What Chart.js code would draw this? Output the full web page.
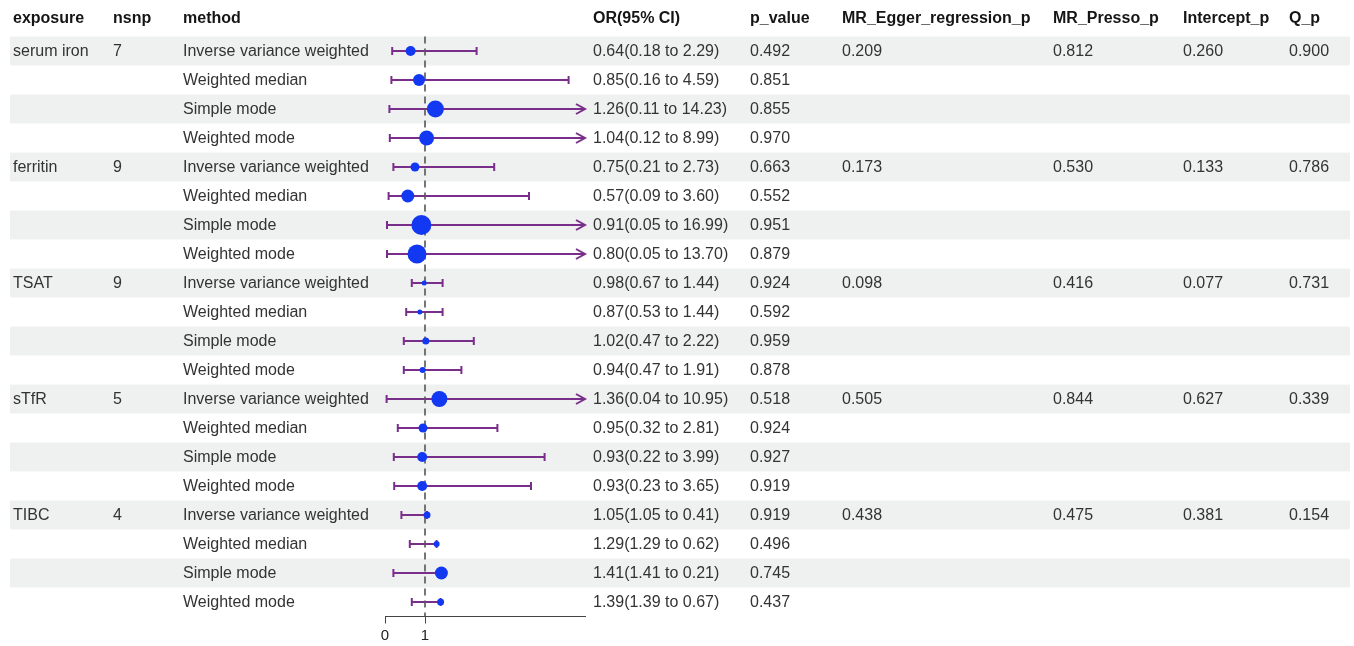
<!DOCTYPE html>
<html>
<head>
<meta charset="utf-8">
<script src="https://cdn.jsdelivr.net/npm/chart.js@4.4.1/dist/chart.umd.min.js"></script>
<style>
  body { margin: 0; background: #fff; }
  #wrap { width: 1354px; height: 646px; }
</style>
</head>
<body>
<div id="wrap"><canvas id="forest" width="1354" height="646"></canvas></div>
<script>
// data
const exposures = ['serum iron', 'ferritin', 'TSAT', 'sTfR', 'TIBC'];
const nsnp = [7, 9, 9, 5, 4];
const methods = ['Inverse variance weighted', 'Weighted median', 'Simple mode', 'Weighted mode'];

const orValue = [0.64, 0.85, 1.26, 1.04, 0.75, 0.57, 0.91, 0.80, 0.98, 0.87, 1.02, 0.94, 1.36, 0.95, 0.93, 0.93, 1.05, 1.29, 1.41, 1.39];
const ciLow = [0.18, 0.16, 0.11, 0.12, 0.21, 0.09, 0.05, 0.05, 0.67, 0.53, 0.47, 0.47, 0.04, 0.32, 0.22, 0.23, 1.05, 1.29, 1.41, 1.39];
const ciHigh = [2.29, 4.59, 14.23, 8.99, 2.73, 3.60, 16.99, 13.70, 1.44, 1.44, 2.22, 1.91, 10.95, 2.81, 3.99, 3.65, 0.41, 0.62, 0.21, 0.67];
const pValue = ['0.492', '0.851', '0.855', '0.970', '0.663', '0.552', '0.951', '0.879', '0.924', '0.592', '0.959', '0.878', '0.518', '0.924', '0.927', '0.919', '0.919', '0.496', '0.745', '0.437'];
// point weight (shown as dot size)
const weight = [5, 6, 8.5, 7.5, 4.5, 6.5, 10, 9.5, 2.5, 2.5, 3.5, 3, 8, 4.5, 5, 5, 3.5, 3, 6.5, 3.5];

const eggerP = ['0.209', '0.173', '0.098', '0.505', '0.438'];
const pressoP = ['0.812', '0.530', '0.416', '0.844', '0.475'];
const interceptP = ['0.260', '0.133', '0.077', '0.627', '0.381'];
const qP = ['0.900', '0.786', '0.731', '0.339', '0.154'];

const headers = ['exposure', 'nsnp', 'method', 'OR(95% CI)', 'p_value', 'MR_Egger_regression_p', 'MR_Presso_p', 'Intercept_p', 'Q_p'];
const xTicks = [0, 1];
const xMax = 5;

const colX = [13, 113, 183, 593, 750, 842, 1053, 1183, 1289];
const FONT = '"Liberation Sans", Arial, Helvetica, sans-serif';
const PURPLE = '#7a2e8c';
const BLUE = '#1238f2';

// rows: 4 methods per exposure
const rows = [];
exposures.forEach((e, k) => {
    methods.forEach((m, j) => {
        const i = k * 4 + j;
        rows.push({
            exposure: j === 0 ? e : '',
            nsnp: j === 0 ? String(nsnp[k]) : '',
            method: m,
            or: orValue[i].toFixed(2) + '(' + ciLow[i].toFixed(2) + ' to ' + ciHigh[i].toFixed(2) + ')',
            p: pValue[i],
            egger: j === 0 ? eggerP[k] : '',
            presso: j === 0 ? pressoP[k] : '',
            intercept: j === 0 ? interceptP[k] : '',
            q: j === 0 ? qP[k] : ''
        });
    });
});

// zebra bands behind everything
const bandPlugin = {
    id: 'bands',
    beforeDraw(chart) {
        const ctx = chart.ctx, y = chart.scales.y;
        ctx.save();
        ctx.fillStyle = '#eff1f1';
        for (let i = 0; i < rows.length; i += 2) {
            const top = y.getPixelForValue(i - 0.5);
            const bot = y.getPixelForValue(i + 0.5);
            ctx.fillRect(10, top, 1340, bot - top);
        }
        ctx.restore();
    }
};

// table text
const tablePlugin = {
    id: 'table',
    afterDraw(chart) {
        const ctx = chart.ctx, y = chart.scales.y;
        ctx.save();
        ctx.textBaseline = 'middle';
        ctx.textAlign = 'left';
        ctx.fillStyle = '#151515';
        ctx.font = 'bold 16px ' + FONT;
        headers.forEach((h, c) => ctx.fillText(h, colX[c], 19));
        ctx.fillStyle = '#333333';
        ctx.font = '16px ' + FONT;
        rows.forEach((r, i) => {
            const py = y.getPixelForValue(i) + 1;
            [r.exposure, r.nsnp, r.method, r.or, r.p, r.egger, r.presso, r.intercept, r.q].forEach((t, c) => {
                if (t) ctx.fillText(t, colX[c], py);
            });
        });
        ctx.restore();
    }
};

// confidence intervals + reference line
const ciPlugin = {
    id: 'ci',
    beforeDatasetsDraw(chart) {
        const ctx = chart.ctx, x = chart.scales.x, y = chart.scales.y;
        const area = chart.chartArea;
        ctx.save();
        ctx.strokeStyle = PURPLE;
        ctx.lineWidth = 2;
        rows.forEach((r, i) => {
            const lo = Math.min(ciLow[i], ciHigh[i]);
            const hi = Math.max(ciLow[i], ciHigh[i]);
            const py = y.getPixelForValue(i);
            const x0 = x.getPixelForValue(lo);
            const x1 = x.getPixelForValue(Math.min(hi, xMax));
            ctx.beginPath();
            ctx.moveTo(x0, py);
            ctx.lineTo(x1, py);
            ctx.moveTo(x0, py - 4);
            ctx.lineTo(x0, py + 4);
            if (hi > xMax) {
                ctx.moveTo(x1 - 9, py - 5);
                ctx.lineTo(x1, py);
                ctx.lineTo(x1 - 9, py + 5);
            } else {
                ctx.moveTo(x1, py - 4);
                ctx.lineTo(x1, py + 4);
            }
            ctx.stroke();
        });
        // dashed line at OR = 1
        const px = x.getPixelForValue(1);
        ctx.strokeStyle = '#555';
        ctx.lineWidth = 1.6;
        ctx.setLineDash([7, 5]);
        ctx.beginPath();
        ctx.moveTo(px, area.top);
        ctx.lineTo(px, area.bottom);
        ctx.stroke();
        ctx.restore();
    }
};

const ctx = document.getElementById('forest').getContext('2d');
const chart = new Chart(ctx, {
    type: 'scatter',
    data: {
        datasets: [{
            data: orValue.map((v, i) => ({ x: v, y: i })),
            pointRadius: weight,
            pointHoverRadius: weight,
            backgroundColor: BLUE,
            borderWidth: 0
        }]
    },
    options: {
        responsive: false,
        animation: false,
        devicePixelRatio: 1,
        layout: { padding: { left: 385, right: 769, top: 36.5, bottom: 0 } },
        plugins: { legend: { display: false }, tooltip: { enabled: false } },
        scales: {
            x: {
                type: 'linear',
                min: 0,
                max: xMax,
                afterBuildTicks: s => { s.ticks = xTicks.map(v => ({ value: v })); },
                afterFit: s => { s.height = 29.5; },
                grid: { drawOnChartArea: false, drawTicks: true, tickLength: 7, color: '#444', lineWidth: 1 },
                border: { display: true, color: '#444', width: 1 },
                ticks: { color: '#222', font: { size: 15, family: FONT }, padding: 3, autoSkip: false, maxRotation: 0 }
            },
            y: {
                type: 'linear',
                min: -0.5,
                max: 19.5,
                reverse: true,
                display: false
            }
        }
    },
    plugins: [bandPlugin, ciPlugin, tablePlugin]
});
</script>
</body>
</html>
